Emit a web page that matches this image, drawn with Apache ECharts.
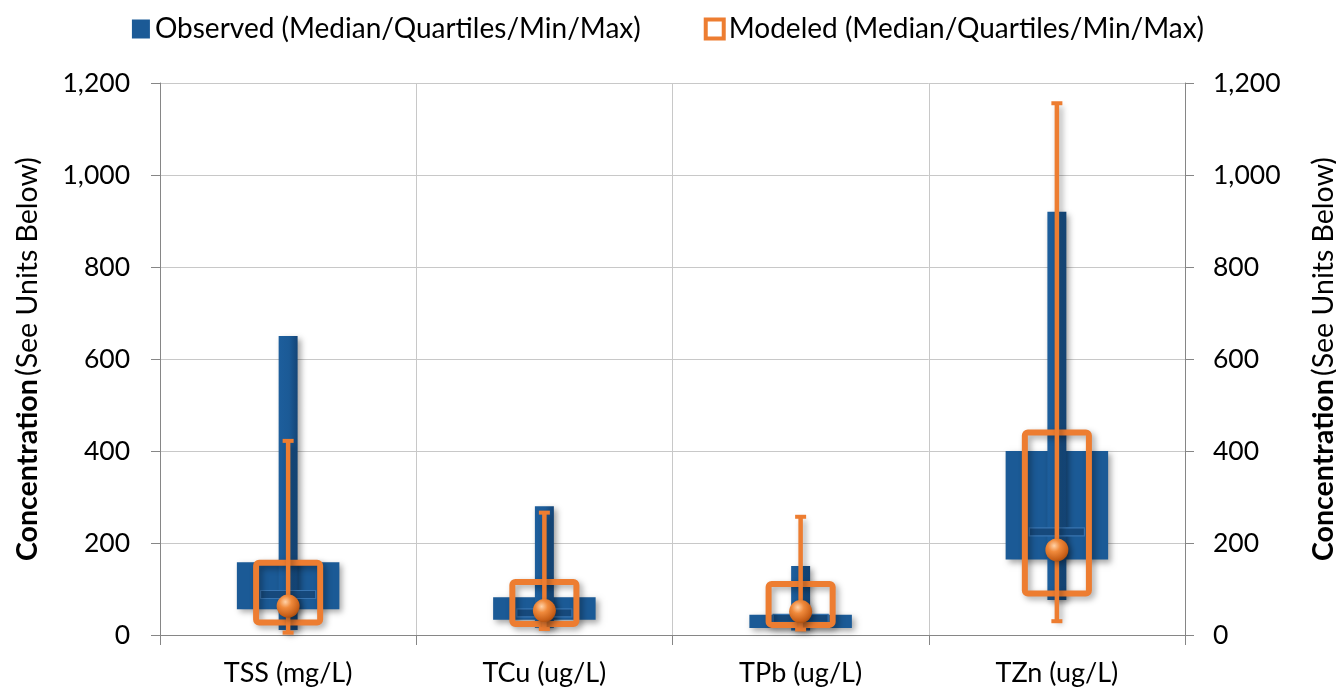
<!DOCTYPE html>
<html>
<head>
<meta charset="utf-8">
<script src="https://cdn.jsdelivr.net/npm/echarts@6/dist/echarts.min.js"></script>
<style>
html,body{margin:0;padding:0;background:#fff;}
#chart{width:1336px;height:690px;}
</style>
</head>
<body>
<div id="chart"></div>
<script>
const categories = ['TSS (mg/L)', 'TCu (ug/L)', 'TPb (ug/L)', 'TZn (ug/L)'];
const obsMin    = [11, 16, 10, 76];
const obsQ1     = [56, 33, 15, 164];
const obsMedian = [88, 48, 36, 224];
const obsQ3     = [158, 82, 44, 400];
const obsMax    = [650, 280, 150, 920];
const modMin    = [5, 13, 12, 30];
const modQ1     = [27, 24, 22, 90];
const modMedian = [63, 53, 51, 185];
const modQ3     = [157, 115, 111, 440];
const modMax    = [422, 266, 257, 1156];
const yTicks    = [0, 200, 400, 600, 800, 1000, 1200];

const BLUE = '#1B5A96';
const ORANGE = '#ED7D31';
const FONT = 'Lato';

const obsData = categories.map((c, i) => [i, obsMin[i], obsQ1[i], obsMedian[i], obsQ3[i], obsMax[i]]);
const modData = categories.map((c, i) => [i, modMin[i], modQ1[i], modMedian[i], modQ3[i], modMax[i]]);

const shadow = {shadowBlur: 6, shadowOffsetX: 3, shadowOffsetY: 3, shadowColor: 'rgba(0,0,0,0.35)'};

function renderObs(params, api) {
  const i = api.value(0);
  const bw = api.size([1, 0])[0];
  const cx = api.coord([i, 0])[0];
  const y = k => api.coord([i, api.value(k)])[1];
  const yMin = y(1), yQ1 = y(2), yMed = y(3), yQ3 = y(4), yMax = y(5);
  const boxW = bw * 0.40, whW = bw * 0.074, medW = bw * 0.215, medH = 8;
  return {
    type: 'group',
    children: [
      {type: 'rect', shape: {x: cx - boxW / 2, y: yQ3, width: boxW, height: yQ1 - yQ3},
        style: Object.assign({fill: BLUE}, shadow)},
      {type: 'rect', shape: {x: cx - whW / 2, y: yMax, width: whW, height: yMin - yMax},
        style: Object.assign({fill: new echarts.graphic.LinearGradient(0, 0, 1, 0, [
          {offset: 0, color: '#1D5E9C'}, {offset: 0.55, color: '#1B5A96'}, {offset: 1, color: '#144577'}])}, shadow)},
      {type: 'rect', shape: {x: cx - medW / 2, y: yMed - medH / 2, width: medW, height: medH},
        style: {fill: '#16497C', stroke: '#3874B0', lineWidth: 1.2}}
    ]
  };
}

function renderMod(params, api) {
  const i = api.value(0);
  const bw = api.size([1, 0])[0];
  const cx = api.coord([i, 0])[0];
  const y = k => api.coord([i, api.value(k)])[1];
  const yMin = y(1), yQ1 = y(2), yMed = y(3), yQ3 = y(4), yMax = y(5);
  const boxW = bw * 0.25, capW = 11;
  return {
    type: 'group',
    children: [
      {type: 'rect', shape: {x: cx - boxW / 2, y: yQ3, width: boxW, height: yQ1 - yQ3, r: 3},
        style: Object.assign({fill: null, stroke: ORANGE, lineWidth: 6}, shadow)},
      {type: 'line', shape: {x1: cx, y1: yMax, x2: cx, y2: yMin},
        style: Object.assign({stroke: ORANGE, lineWidth: 4.5}, shadow)},
      {type: 'line', shape: {x1: cx - capW / 2, y1: yMax, x2: cx + capW / 2, y2: yMax},
        style: {stroke: ORANGE, lineWidth: 4}},
      {type: 'line', shape: {x1: cx - capW / 2, y1: yMin, x2: cx + capW / 2, y2: yMin},
        style: {stroke: ORANGE, lineWidth: 4}},
      {type: 'circle', shape: {cx: cx, cy: yMed, r: 11.5},
        style: Object.assign({fill: new echarts.graphic.RadialGradient(0.38, 0.32, 0.75, [
          {offset: 0, color: '#FFD2A8'}, {offset: 0.35, color: '#F08A3C'}, {offset: 0.8, color: '#C85F18'}, {offset: 1, color: '#9E4A10'}])}, shadow)}
    ]
  };
}

const yNameRich = {
  b: {fontFamily: FONT, fontSize: 28.5, fontWeight: 'bold', color: '#000'},
  n: {fontFamily: FONT, fontSize: 28.5, color: '#000'}
};

const yAxisCommon = {
  type: 'value', min: 0, max: 1200, interval: 200,
  name: '{b|Concentration} {n|(See Units Below)}',
  nameLocation: 'middle', nameRotate: 90,
  nameTextStyle: {rich: yNameRich},
  axisLine: {show: true, lineStyle: {color: '#868686', width: 1}},
  axisTick: {show: true, inside: false, length: 9, lineStyle: {color: '#868686'}},
  axisLabel: {fontFamily: FONT, fontSize: 26.5, color: '#000',
    formatter: v => yTicks.includes(v) ? v.toLocaleString('en-US') : ''}
};

const chart = echarts.init(document.getElementById('chart'), null, {renderer: 'canvas'});
chart.setOption({
  backgroundColor: '#fff',
  animation: false,
  legend: {
    top: 10, left: 'center', itemWidth: 18, itemHeight: 19, itemGap: 63,
    textStyle: {fontFamily: FONT, fontSize: 28, color: '#000'},
    data: [
      {name: 'Observed (Median/Quartiles/Min/Max)', icon: 'rect', itemStyle: {color: BLUE}},
      {name: 'Modeled (Median/Quartiles/Min/Max)', icon: 'rect', itemStyle: {color: '#fff', borderColor: ORANGE, borderWidth: 4}}
    ]
  },
  grid: {left: 160, right: 151, top: 83, bottom: 55, outerBoundsMode: 'none', containLabel: false},
  xAxis: {
    type: 'category', data: categories, boundaryGap: true,
    axisLine: {lineStyle: {color: '#868686'}},
    axisTick: {show: true, length: 10, lineStyle: {color: '#868686'}},
    splitLine: {show: true, lineStyle: {color: '#C8C8C8', width: 1}},
    axisLabel: {fontFamily: FONT, fontSize: 27, color: '#000', margin: 25}
  },
  yAxis: [
    Object.assign({}, yAxisCommon, {position: 'left', nameGap: 118,
      splitLine: {show: true, lineStyle: {color: '#C8C8C8', width: 1}},
      axisLabel: Object.assign({}, yAxisCommon.axisLabel, {margin: 30})}),
    Object.assign({}, yAxisCommon, {position: 'right', nameGap: 124,
      splitLine: {show: false},
      axisLabel: Object.assign({}, yAxisCommon.axisLabel, {margin: 28})})
  ],
  series: [
    {name: 'Observed (Median/Quartiles/Min/Max)', type: 'custom', renderItem: renderObs,
      data: obsData, itemStyle: {color: BLUE}, encode: {x: 0, y: [1, 2, 3, 4, 5]}, clip: false, z: 2},
    {name: 'Modeled (Median/Quartiles/Min/Max)', type: 'custom', renderItem: renderMod,
      data: modData, itemStyle: {color: ORANGE}, encode: {x: 0, y: [1, 2, 3, 4, 5]}, clip: false, z: 3}
  ]
});
</script>
</body>
</html>
